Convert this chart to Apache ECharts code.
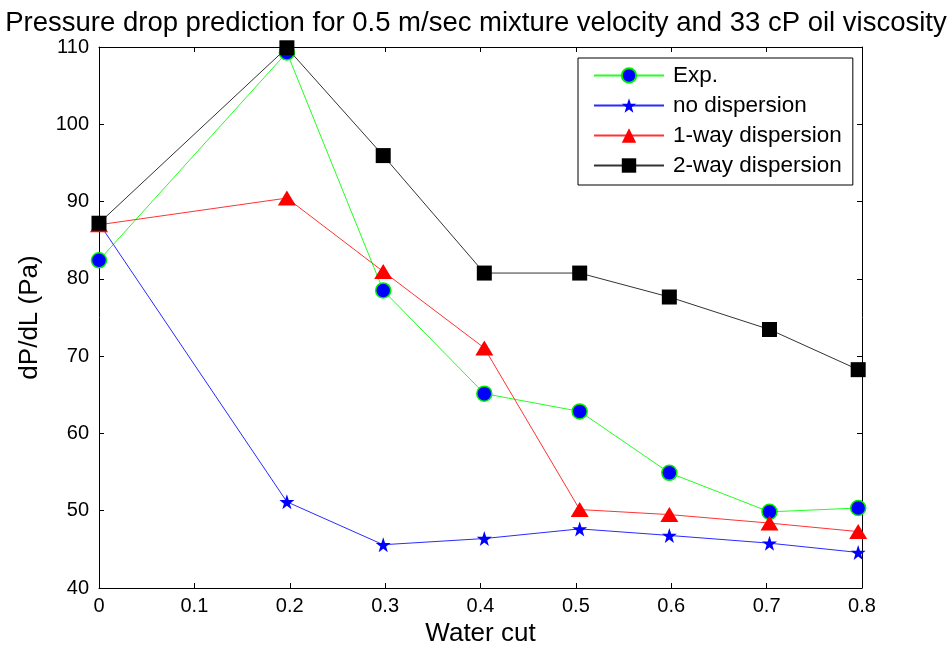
<!DOCTYPE html>
<html>
<head>
<meta charset="utf-8">
<script src="https://cdn.jsdelivr.net/npm/echarts@6/dist/echarts.min.js"></script>
<style>html,body{margin:0;padding:0;background:#fff}#chart{width:952px;height:648px}</style>
</head>
<body>
<div id="chart"></div>
<script>
// ---- data ----
const titleText = 'Pressure drop prediction for 0.5 m/sec mixture velocity and 33 cP oil viscosity';
const xName = 'Water cut';
const yName = 'dP/dL (Pa)';
const seriesNames = ['Exp.', 'no dispersion', '1-way dispersion', '2-way dispersion'];
const waterCut = [0, 0.197, 0.298, 0.404, 0.504, 0.598, 0.703, 0.796];
const expValues = [82.4, 109.3, 78.5, 65.15, 62.85, 54.9, 49.85, 50.35];
const noDispValues = [87.2, 51.15, 45.6, 46.4, 47.65, 46.8, 45.8, 44.6];
const oneWayValues = [87.0, 90.45, 80.95, 71.05, 50.15, 49.5, 48.4, 47.3];
const twoWayValues = [87.2, 109.9, 95.95, 80.75, 80.75, 77.65, 73.45, 68.25];
const xTicks = { min: 0, max: 0.8, interval: 0.1 };
const yTicks = { min: 40, max: 110, interval: 10 };

const FONT = "'Liberation Sans', Arial, sans-serif";
const starPath = 'path://M50,0 L61.8,35.1 L98.1,35.1 L68.8,56.8 L79.4,91.0 L50,70 L20.6,91.0 L31.2,56.8 L1.9,35.1 L38.2,35.1 Z';

function pairs(ys) { return waterCut.map((x, i) => [x, ys[i]]); }

const chart = echarts.init(document.getElementById('chart'), null, { renderer: 'canvas' });

const axisCommon = {
  axisLine: { show: true, onZero: false, lineStyle: { color: '#000', width: 1 } },
  axisTick: { show: true, inside: true, length: 5, lineStyle: { color: '#000' } },
  splitLine: { show: false }
};

chart.setOption({
  animation: false,
  backgroundColor: '#fff',
  title: {
    text: titleText,
    left: 'center',
    top: 4,
    textStyle: { fontFamily: FONT, fontSize: 27.5, fontWeight: 'normal', color: '#000' }
  },
  grid: { left: 99, right: 90, top: 47, bottom: 60, containLabel: false, outerBoundsMode: 'none' },
  legend: {
    orient: 'vertical',
    left: 578,
    top: 58,
    padding: [6, 11, 8, 15],
    itemWidth: 70,
    itemHeight: 18,
    itemGap: 7,
    backgroundColor: '#fff',
    borderColor: '#000',
    borderWidth: 1,
    borderRadius: 0,
    textStyle: { fontFamily: FONT, fontSize: 22.5, color: '#000', padding: [0, 0, 0, 4] },
    data: seriesNames
  },
  xAxis: [
    Object.assign({
      type: 'value', position: 'bottom',
      min: xTicks.min, max: xTicks.max, interval: xTicks.interval,
      name: xName, nameLocation: 'middle', nameGap: 33,
      nameTextStyle: { fontFamily: FONT, fontSize: 26, color: '#000' },
      axisLabel: { fontFamily: FONT, fontSize: 20, color: '#000', margin: 8,
        formatter: v => (Math.round(v * 10) / 10).toString() }
    }, axisCommon),
    Object.assign({
      type: 'value', position: 'top',
      min: xTicks.min, max: xTicks.max, interval: xTicks.interval,
      axisLabel: { show: false }
    }, axisCommon)
  ],
  yAxis: [
    Object.assign({
      type: 'value', position: 'left',
      min: yTicks.min, max: yTicks.max, interval: yTicks.interval,
      name: yName, nameLocation: 'middle', nameGap: 56,
      nameTextStyle: { fontFamily: FONT, fontSize: 26, color: '#000' },
      axisLabel: { fontFamily: FONT, fontSize: 20, color: '#000', margin: 10 }
    }, axisCommon),
    Object.assign({
      type: 'value', position: 'right',
      min: yTicks.min, max: yTicks.max, interval: yTicks.interval,
      axisLabel: { show: false }
    }, axisCommon)
  ],
  series: [
    {
      name: seriesNames[0], type: 'line', data: pairs(expValues),
      symbol: 'circle', symbolSize: 15,
      lineStyle: { color: '#22ff22', width: 1 },
      itemStyle: { color: '#0000ff', borderColor: '#00ee00', borderWidth: 1.5 },
      emphasis: { disabled: true }
    },
    {
      name: seriesNames[1], type: 'line', data: pairs(noDispValues),
      symbol: starPath, symbolSize: 15,
      lineStyle: { color: '#2a2aff', width: 1 },
      itemStyle: { color: '#0000ff', borderWidth: 0 },
      emphasis: { disabled: true }
    },
    {
      name: seriesNames[2], type: 'line', data: pairs(oneWayValues),
      symbol: 'triangle', symbolSize: [18, 15],
      lineStyle: { color: '#ff3333', width: 1 },
      itemStyle: { color: '#ff0000', borderWidth: 0 },
      emphasis: { disabled: true }
    },
    {
      name: seriesNames[3], type: 'line', data: pairs(twoWayValues),
      symbol: 'rect', symbolSize: 15,
      lineStyle: { color: '#333333', width: 1 },
      itemStyle: { color: '#000000', borderWidth: 0 },
      emphasis: { disabled: true }
    }
  ]
});
</script>
</body>
</html>
